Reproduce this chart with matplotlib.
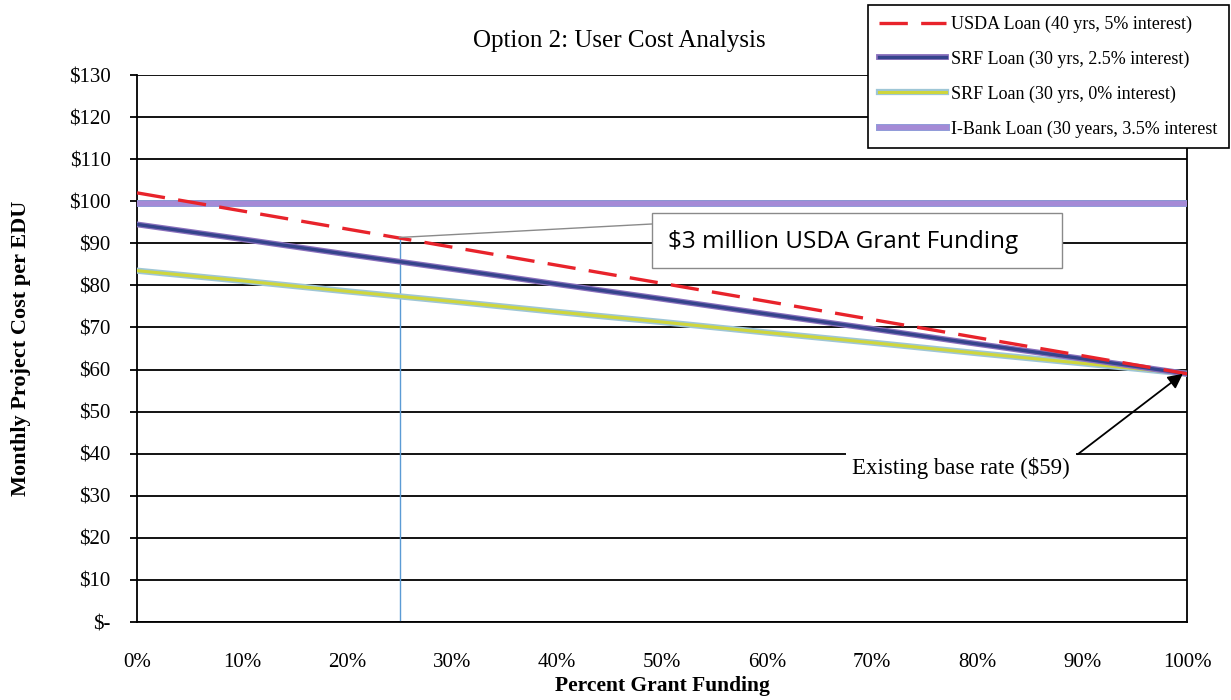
import numpy as np
import matplotlib
matplotlib.use("Agg")
import matplotlib.pyplot as plt
import matplotlib.patheffects as pe
from matplotlib.patches import Rectangle

grant_pct = [0, 10, 20, 30, 40, 50, 60, 70, 80, 90, 100]
usda = [102.0, 97.7, 93.4, 89.1, 84.8, 80.5, 76.2, 71.9, 67.6, 63.3, 59.0]
srf_25 = [94.5, 91.0, 87.4, 83.9, 80.3, 76.8, 73.2, 69.7, 66.1, 62.6, 59.0]
srf_0 = [83.5, 81.1, 78.6, 76.2, 73.7, 71.3, 68.8, 66.4, 63.9, 61.5, 59.0]
ibank = [99.5] * 11

grant_mark = 25
grant_mark_cost = 91.4
base_rate = 59

yticks = list(range(0, 131, 10))
ylabels = ["$-"] + [f"${v}" for v in yticks[1:]]

plt.rcParams['font.family'] = ['Liberation Serif', 'DejaVu Serif']

fig = plt.figure(figsize=(12.31, 7), dpi=100)
ax = fig.add_axes([0.1113, 0.1114, 0.853, 0.7814])

for v in yticks:
    ax.axhline(v, color='black', lw=1.3, zorder=1)

ax.plot(grant_pct, ibank, color='#a58ad6', lw=3.5, zorder=3,
        path_effects=[pe.Stroke(linewidth=5, foreground='#8f9ad8'), pe.Normal()],
        label='I-Bank Loan (30 years, 3.5% interest')
ax.plot(grant_pct, srf_0, color='#cfd63c', lw=2.2, zorder=3,
        path_effects=[pe.Stroke(linewidth=4.5, foreground='#9ec6d6'), pe.Normal()],
        label='SRF Loan (30 yrs, 0% interest)')
ax.plot(grant_pct, srf_25, color='#35448c', lw=2.4, zorder=4,
        path_effects=[pe.Stroke(linewidth=4.2, foreground='#8a70bd'), pe.Normal()],
        label='SRF Loan (30 yrs, 2.5% interest)')
ax.plot(grant_pct, usda, color='#e8232b', lw=2.4, ls=(0, (8.5, 4)), zorder=5,
        label='USDA Loan (40 yrs, 5% interest)')

# vertical marker at the $3M USDA grant level
ax.plot([grant_mark, grant_mark], [0, grant_mark_cost], color='#5b9bd5', lw=1, zorder=2)

# callout box
ax.add_patch(Rectangle((49.05, 84.1), 39.05, 13.1, fc='white', ec='#8a8a8a',
                       lw=1, zorder=6))
ax.plot([grant_mark, 49.05], [grant_mark_cost, 94.6], color='#8a8a8a', lw=1, zorder=6)
ax.text(50.6, 90.4, "$3 million USDA Grant Funding", fontsize=17.5,
        family=['Open Sans', 'DejaVu Sans'], va='center', ha='left', zorder=7)

ax.annotate("Existing base rate ($59)", xy=(99.6, base_rate), xytext=(68.1, 36.6),
            fontsize=16.5, va='center', ha='left', zorder=6,
            bbox=dict(boxstyle='square,pad=0.25', fc='white', ec='none'),
            arrowprops=dict(arrowstyle='-|>', color='black', lw=1.3,
                            mutation_scale=22, shrinkA=2, shrinkB=0,
                            relpos=(1.0, 0.85)))

ax.set_xlim(0, 100)
ax.set_ylim(0, 130)
ax.set_xticks(grant_pct)
ax.set_xticklabels([f"{v}%" for v in grant_pct], fontsize=15)
ax.set_yticks(yticks)
ax.set_yticklabels(ylabels, fontsize=15)
ax.tick_params(axis='x', length=0, pad=22)
ax.tick_params(axis='y', length=5, width=1.3, pad=14)
for s in ax.spines.values():
    s.set_color('black')
    s.set_linewidth(1.3)
ax.spines['top'].set_visible(False)

ax.set_title("Option 2: User Cost Analysis", fontsize=18, x=0.459, pad=20)
ax.set_xlabel("Percent Grant Funding", fontsize=15.5, fontweight='bold', labelpad=3)
ax.set_ylabel("Monthly Project Cost per EDU", fontsize=16, fontweight='bold', labelpad=27)

handles, labels = ax.get_legend_handles_labels()
order = [3, 2, 1, 0]
leg = fig.legend([handles[i] for i in order], [labels[i] for i in order],
                 loc='upper right', bbox_to_anchor=(0.998, 0.993), fontsize=13,
                 frameon=True, fancybox=False, edgecolor='black', framealpha=1,
                 handlelength=3.7, labelspacing=0.97, borderpad=0.6, handletextpad=0.3,
                 borderaxespad=0)
leg.get_frame().set_linewidth(1.2)

fig.savefig("out.png", dpi=100)
